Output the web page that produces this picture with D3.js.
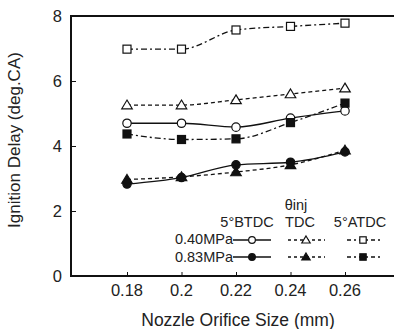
<!DOCTYPE html>
<html><head><meta charset="utf-8">
<script src="https://cdn.jsdelivr.net/npm/d3@7"></script>
<style>body{margin:0;background:#fff}svg{display:block}text{font-family:"Liberation Sans",Arial,sans-serif;fill:#222}</style>
</head><body><svg id="c" width="394" height="329"></svg>
<script>
const sizes = [0.18, 0.20, 0.22, 0.24, 0.26];
const xTicks = [0.18, 0.2, 0.22, 0.24, 0.26];
const xTickLabels = ["0.18", "0.2", "0.22", "0.24", "0.26"];
const yTicks = [0, 2, 4, 6, 8];
const p040_BTDC = [4.70, 4.70, 4.58, 4.86, 5.08];
const p040_TDC  = [5.26, 5.26, 5.42, 5.60, 5.78];
const p040_ATDC = [6.98, 6.98, 7.57, 7.68, 7.78];
const p083_BTDC = [2.83, 3.03, 3.42, 3.50, 3.82];
const p083_TDC  = [2.97, 3.05, 3.20, 3.42, 3.87];
const p083_ATDC = [4.37, 4.20, 4.22, 4.72, 5.32];

const series = [
  {v:p040_BTDC, sym:"circle", fill:false, dash:null},
  {v:p040_TDC, sym:"triangle", fill:false, dash:"4,3"},
  {v:p040_ATDC, sym:"square", fill:false, dash:"6,3,2,3"},
  {v:p083_BTDC, sym:"circle", fill:true, dash:null},
  {v:p083_TDC, sym:"triangle", fill:true, dash:"4,3"},
  {v:p083_ATDC, sym:"square", fill:true, dash:"6,3,2,3"}
];

const svg = d3.select("#c");
const x = d3.scaleLinear().domain([0.16, 0.28]).range([72.5, 399.5]);
const y = d3.scaleLinear().domain([0, 8]).range([276, 16]);
const L = 71, R = 396, T = 16, B = 276;

// frame
svg.append("line").attr("x1",L).attr("x2",R).attr("y1",T).attr("y2",T).attr("stroke","#111").attr("stroke-width",2);
svg.append("line").attr("x1",L).attr("x2",L).attr("y1",T-1).attr("y2",B+1).attr("stroke","#111").attr("stroke-width",2);
svg.append("line").attr("x1",L).attr("x2",R).attr("y1",B).attr("y2",B).attr("stroke","#111").attr("stroke-width",2);

// y axis ticks
const ya = svg.append("g").attr("transform",`translate(${L},0)`)
  .call(d3.axisRight(y).tickValues(yTicks).tickSize(5).tickFormat(""));
ya.select(".domain").remove();
ya.selectAll("line").attr("stroke","#111");
svg.selectAll(".ylab").data(yTicks).enter().append("text")
  .attr("x",62).attr("y",d=>y(d)+6).attr("text-anchor","end")
  .style("font-size","16.5px").text(d=>d);

// x axis ticks
const xa = svg.append("g").attr("transform",`translate(0,${B})`)
  .call(d3.axisTop(x).tickValues(xTicks).tickSize(4).tickFormat(""));
xa.select(".domain").remove();
xa.selectAll("line").attr("stroke","#111");
svg.selectAll(".xlab").data(xTicks).enter().append("text")
  .attr("x",d=>x(d)).attr("y",296).attr("text-anchor","middle")
  .style("font-size","16.5px").text((d,i)=>xTickLabels[i]);

svg.append("text").attr("x",238).attr("y",326).attr("text-anchor","middle")
  .style("font-size","17.5px").text("Nozzle Orifice Size (mm)");
svg.append("text").attr("transform","translate(20,140) rotate(-90)").attr("text-anchor","middle")
  .style("font-size","17px").text("Ignition Delay (deg.CA)");

const line = d3.line().x((d,i)=>x(sizes[i])).y(d=>y(d)).curve(d3.curveMonotoneX);

function marker(g, sym, fill, cx, cy, scale=1){
  const f = fill ? "#111" : "#fff";
  if(sym==="circle") g.append("circle").attr("cx",cx).attr("cy",cy).attr("r",4.2*scale).attr("fill",f).attr("stroke","#111").attr("stroke-width",1.2);
  else if(sym==="square") { const s=8*scale; g.append("rect").attr("x",cx-s/2).attr("y",cy-s/2).attr("width",s).attr("height",s).attr("fill",f).attr("stroke","#111").attr("stroke-width",1.2);}
  else { const s=5*scale; g.append("path").attr("d",`M${cx},${cy-s}L${cx+s*1.05},${cy+s*0.75}L${cx-s*1.05},${cy+s*0.75}Z`).attr("fill",f).attr("stroke","#111").attr("stroke-width",1.2);}
}

series.forEach(s=>{
  svg.append("path").datum(s.v).attr("d",line).attr("fill","none").attr("stroke","#111")
    .attr("stroke-width",1.3).attr("stroke-dasharray",s.dash);
});
series.forEach(s=>{
  const g = svg.append("g");
  s.v.forEach((v,i)=>marker(g, s.sym, s.fill, x(sizes[i]), y(v)));
});

// legend
const lg = svg.append("g").style("font-size","14.5px");
lg.append("text").attr("x",296).attr("y",210).attr("text-anchor","middle").text("θinj");
lg.append("text").attr("x",247).attr("y",227).attr("text-anchor","middle").text("5°BTDC");
lg.append("text").attr("x",300).attr("y",227).attr("text-anchor","middle").text("TDC");
lg.append("text").attr("x",360).attr("y",227).attr("text-anchor","middle").text("5°ATDC");
lg.append("text").attr("x",233).attr("y",244).attr("text-anchor","end").text("0.40MPa");
lg.append("text").attr("x",233).attr("y",262).attr("text-anchor","end").text("0.83MPa");
const legRows = [240, 257];
const legCols = [{x0:233,x1:271,xm:252},{x0:288,x1:325,xm:306},{x0:347,x1:383,xm:363}];
series.forEach((s,k)=>{
  const row = Math.floor(k/3), col = k%3, c = legCols[col], yy = legRows[row];
  lg.append("line").attr("x1",c.x0).attr("x2",c.x1).attr("y1",yy).attr("y2",yy)
    .attr("stroke","#111").attr("stroke-width",1.3).attr("stroke-dasharray",s.dash?(col===1?"3,3":"4,3,2,3"):null);
  marker(lg, s.sym, s.fill, c.xm, yy, 0.8);
});
</script></body></html>
